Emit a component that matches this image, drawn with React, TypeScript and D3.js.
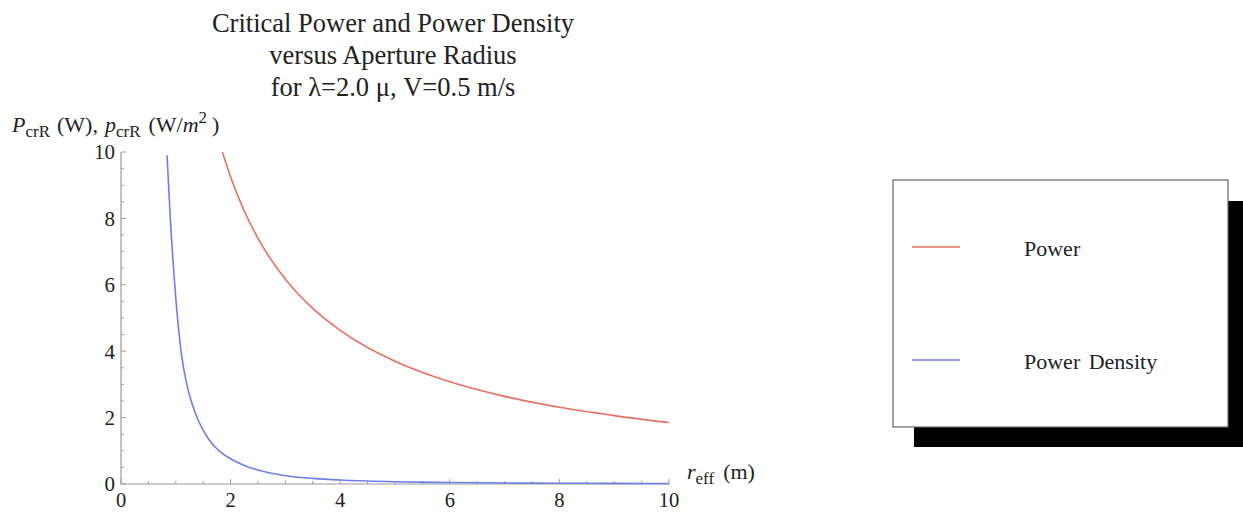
import React from "react";
import * as d3 from "d3";

const titleLines = ["Critical Power and Power Density", "versus Aperture Radius", "for λ=2.0 μ, V=0.5 m/s"];
const xTicks = [0, 2, 4, 6, 8, 10];
const yTicks = [0, 2, 4, 6, 8, 10];
const powerR = [1.85, 2, 2.25, 2.5, 2.75, 3, 3.5, 4, 4.5, 5, 6, 7, 8, 9, 10];
const powerV = [10, 9.25, 8.22, 7.4, 6.73, 6.17, 5.29, 4.63, 4.11, 3.7, 3.08, 2.64, 2.31, 2.06, 1.85];
const densR = [0.84, 0.9, 1.0, 1.1, 1.2, 1.3, 1.4, 1.6, 1.8, 2, 2.25, 2.5, 3, 3.5, 4, 5, 6, 7, 8, 9, 10];
const densV = [9.9, 8.0, 5.6, 3.95, 3.0, 2.4, 1.95, 1.35, 0.98, 0.76, 0.56, 0.42, 0.25, 0.17, 0.12, 0.07, 0.045, 0.032, 0.024, 0.019, 0.015];
const seriesNames = ["Power", "Power Density"];
const seriesColors = ["#e8705f", "#6a80e6"];

export default function App() {
  const x = d3.scaleLinear().domain([0, 10]).range([121, 669]);
  const y = d3.scaleLinear().domain([0, 10]).range([484, 152]);
  const line = d3
    .line<[number, number]>()
    .x((d) => x(d[0]))
    .y((d) => y(d[1]))
    .curve(d3.curveMonotoneX);
  const powerPts = powerR.map((r, i) => [r, powerV[i]] as [number, number]);
  const densPts = densR.map((r, i) => [r, densV[i]] as [number, number]);
  const minor = d3.range(0, 10.001, 0.5);
  const axisColor = "#9a9a9a";
  const font = "'Liberation Serif', 'Times New Roman', serif";
  return (
    <svg
      width={1243}
      height={512}
      style={{ position: "absolute", left: 0, top: 0, background: "#fff" }}
      fontFamily={font}
    >
      {titleLines.map((t, i) => (
        <text key={i} x={393} y={32 + i * 32} textAnchor="middle" fontSize={26.5} fill="#222">
          {t}
        </text>
      ))}
      {/* y label */}
      <text x={12} y={132} fontSize={22} fill="#222">
        <tspan fontStyle="italic">P</tspan>
        <tspan fontSize={17} dy={5}>crR</tspan>
        <tspan dy={-5} dx={7}>(W),</tspan>
        <tspan dx={7} fontStyle="italic">p</tspan>
        <tspan fontSize={17} dy={5}>crR</tspan>
        <tspan dy={-5} dx={8}>(W/</tspan>
        <tspan fontStyle="italic">m</tspan>
        <tspan fontSize={17} dy={-9}>2</tspan>
        <tspan dy={9} dx={5}>)</tspan>
      </text>
      {/* axes */}
      <line x1={x(0)} x2={x(10)} y1={y(0)} y2={y(0)} stroke={axisColor} strokeWidth={1.2} />
      <line x1={x(0)} x2={x(0)} y1={y(0)} y2={y(10)} stroke={axisColor} strokeWidth={1.2} />
      {minor.map((v) => {
        const major = Math.abs(v % 2) < 1e-9;
        return (
          <g key={v}>
            <line x1={x(v)} x2={x(v)} y1={y(0)} y2={y(0) - (major ? 5 : 3)} stroke={axisColor} strokeWidth={1} />
            <line x1={x(0)} x2={x(0) + (major ? 5 : 3)} y1={y(v)} y2={y(v)} stroke={axisColor} strokeWidth={1} />
          </g>
        );
      })}
      {xTicks.map((v) => (
        <text key={"xt" + v} x={x(v)} y={507} textAnchor="middle" fontSize={20.5} fill="#222">
          {v}
        </text>
      ))}
      {yTicks.map((v) => (
        <text key={"yt" + v} x={115} y={y(v)} dy="0.35em" textAnchor="end" fontSize={21} fill="#222">
          {v}
        </text>
      ))}
      {/* x label */}
      <text x={687} y={479} fontSize={22} fill="#222">
        <tspan fontStyle="italic">r</tspan>
        <tspan fontSize={17} dy={5}>eff</tspan>
        <tspan dy={-5} dx={9}>(m)</tspan>
      </text>
      {/* curves */}
      <path d={line(powerPts) || ""} fill="none" stroke={seriesColors[0]} strokeWidth={1.6} />
      <path d={line(densPts) || ""} fill="none" stroke={seriesColors[1]} strokeWidth={1.6} />
      {/* legend */}
      <rect x={914} y={201} width={336} height={246} fill="#000" />
      <rect x={893} y={180} width={335} height={247} fill="#fff" stroke="#666" strokeWidth={1.2} />
      {seriesNames.map((n, i) => (
        <g key={n}>
          <line x1={912} x2={960} y1={247 + i * 113} y2={247 + i * 113} stroke={seriesColors[i]} strokeWidth={1.4} />
          <text x={1024} y={256 + i * 113} fontSize={22} fill="#222" wordSpacing={3}>
            {n}
          </text>
        </g>
      ))}
    </svg>
  );
}
